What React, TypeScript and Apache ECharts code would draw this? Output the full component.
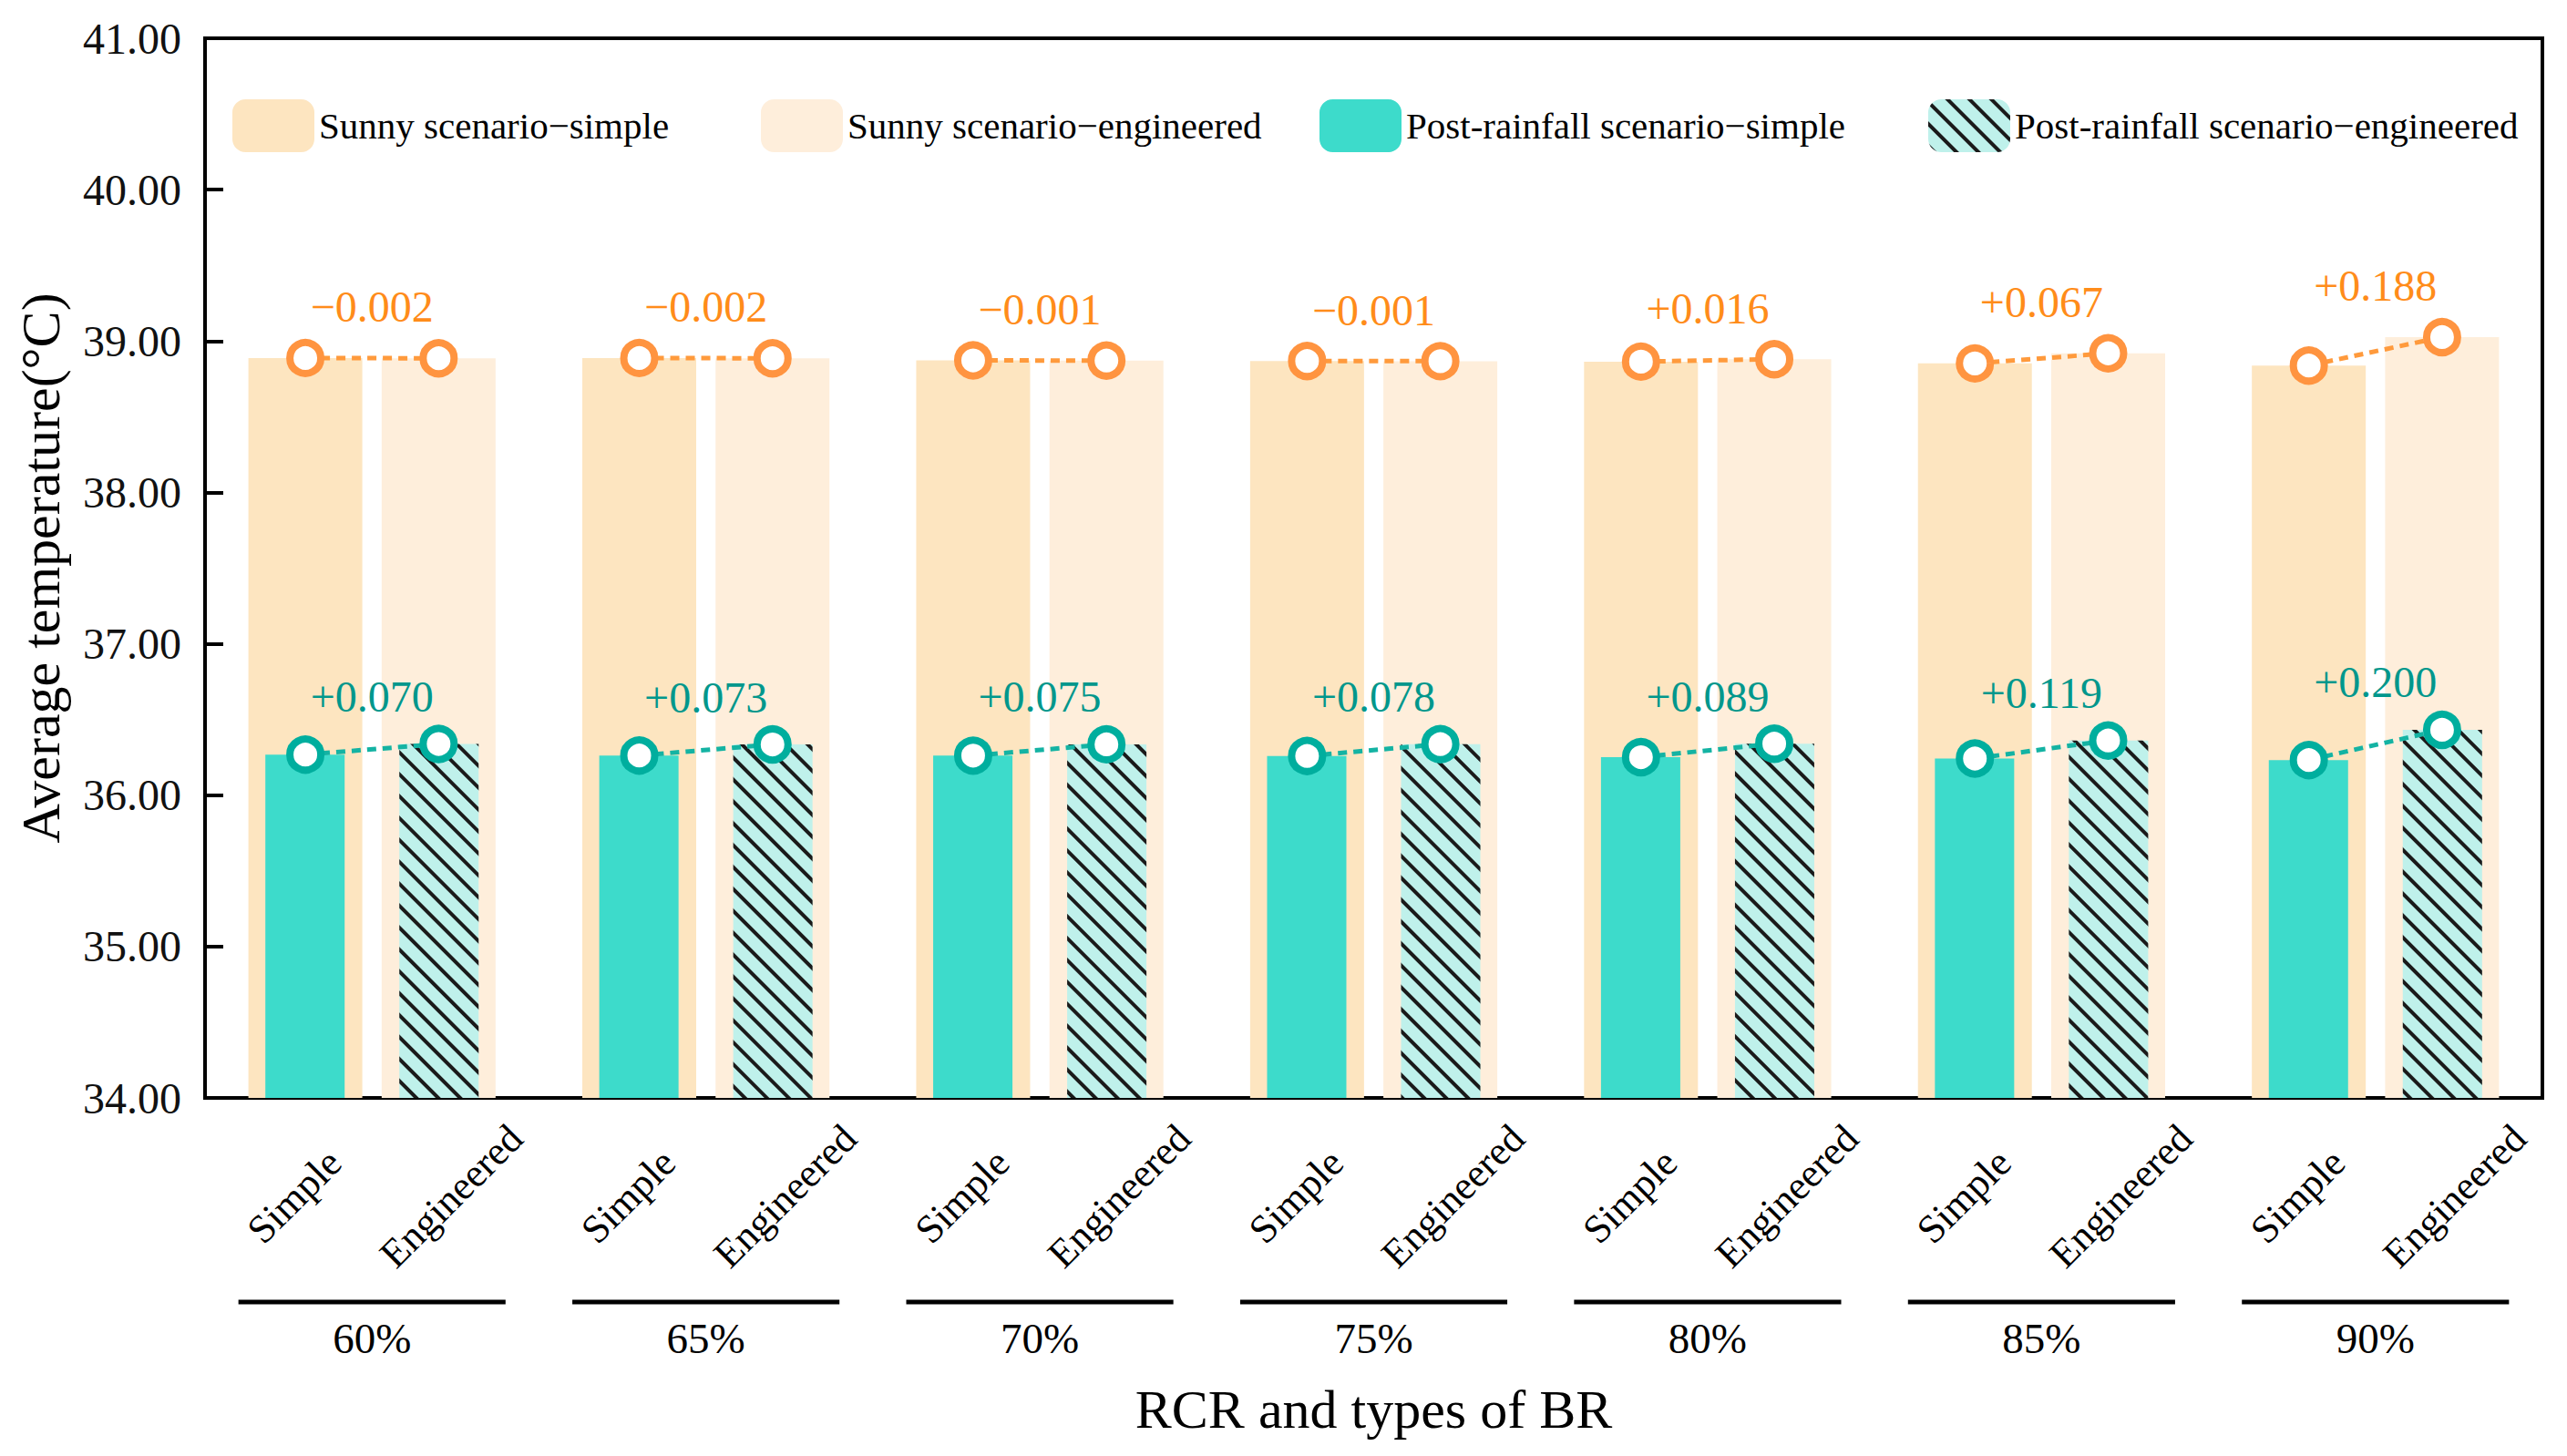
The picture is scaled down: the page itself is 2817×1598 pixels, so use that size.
import { useEffect, useRef } from "react"
import * as echarts from "echarts"

// RCR groups and BR types
const groups = ["60%", "65%", "70%", "75%", "80%", "85%", "90%"]
const brTypes = ["Simple", "Engineered"]

// average temperature (°C)
const sunnySimple = [38.888, 38.888, 38.872, 38.868, 38.864, 38.852, 38.838]
const sunnyEngineered = [38.886, 38.886, 38.871, 38.867, 38.88, 38.919, 39.026]
const rainSimple = [36.268, 36.262, 36.261, 36.259, 36.251, 36.242, 36.232]
const rainEngineered = [36.338, 36.335, 36.336, 36.337, 36.34, 36.361, 36.432]

// difference labels (engineered − simple)
const sunnyDiff = ["−0.002", "−0.002", "−0.001", "−0.001", "+0.016", "+0.067", "+0.188"]
const rainDiff = ["+0.070", "+0.073", "+0.075", "+0.078", "+0.089", "+0.119", "+0.200"]

const seriesNames = [
  "Sunny scenario−simple",
  "Sunny scenario−engineered",
  "Post-rainfall scenario−simple",
  "Post-rainfall scenario−engineered",
]

const Y_MIN = 34
const Y_MAX = 41

const FONT = "Liberation Serif"
const SUNNY_W = 125
const SUNNY_GAP = 0.17
const RAIN_W = 87
const RAIN_GAP = 0.69
// distance from category centre to each bar centre
const PAIR_OFFSET = (SUNNY_W * (1 + SUNNY_GAP)) / 2

export default function App() {
  const chartRef = useRef<HTMLDivElement>(null)

  useEffect(() => {
    document.body.style.margin = "0"
    if (!chartRef.current) return
    const chart = echarts.init(chartRef.current, undefined, { renderer: "svg" })

    const pairRenderer = (labels: string[], lineColor: string, ringColor: string, textColor: string, labelLift: number) =>
      (params: any, api: any) => {
        const i = api.value(0)
        const p1 = api.coord([i, api.value(1)])
        const p2 = api.coord([i, api.value(2)])
        const x1 = p1[0] - PAIR_OFFSET
        const x2 = p2[0] + PAIR_OFFSET
        const top = Math.min(p1[1], p2[1])
        return {
          type: "group",
          children: [
            {
              type: "line",
              shape: { x1, y1: p1[1], x2, y2: p2[1] },
              style: { stroke: lineColor, lineWidth: 5, lineDash: [10, 7] },
            },
            {
              type: "circle",
              shape: { cx: x1, cy: p1[1], r: 17 },
              style: { fill: "#fff", stroke: ringColor, lineWidth: 8 },
            },
            {
              type: "circle",
              shape: { cx: x2, cy: p2[1], r: 17 },
              style: { fill: "#fff", stroke: ringColor, lineWidth: 8 },
            },
            {
              type: "text",
              x: p1[0],
              y: top - labelLift,
              style: {
                text: labels[params.dataIndex],
                fill: textColor,
                fontSize: 48,
                fontFamily: FONT,
                align: "center",
                verticalAlign: "middle",
              },
            },
          ],
        }
      }

    const axisDecoration = (params: any, api: any) => {
      const base = api.coord([api.value(0), Y_MIN])
      const band = api.size([1, 0])[0]
      const cx = base[0]
      const mk = (text: string, x: number) => ({
        type: "text",
        x,
        y: base[1] + 108,
        rotation: Math.PI / 4,
        style: {
          text,
          fill: "#000",
          fontSize: 44,
          fontFamily: FONT,
          align: "center",
          verticalAlign: "middle",
        },
      })
      return {
        type: "group",
        children: [
          mk(brTypes[0], cx - PAIR_OFFSET - 12),
          mk(brTypes[1], cx + PAIR_OFFSET + 14),
          {
            type: "line",
            shape: { x1: cx - band * 0.4, y1: base[1] + 224, x2: cx + band * 0.4, y2: base[1] + 224 },
            style: { stroke: "#000", lineWidth: 5 },
          },
        ],
      }
    }

    const legendLefts = [250, 830, 1443, 2111]

    const option = {
      animation: false,
      textStyle: { fontFamily: FONT },
      grid: {
        left: 225,
        right: 27,
        top: 42,
        bottom: 393,
        show: true,
        borderColor: "#000",
        borderWidth: 4,
        backgroundColor: "transparent",
      },
      legend: seriesNames.map((name, i) => ({
        data: [name],
        left: legendLefts[i],
        top: 104,
        icon: "roundRect",
        itemWidth: 90,
        itemHeight: 58,
        itemGap: 0,
        textStyle: { fontSize: 41, fontFamily: FONT, color: "#000" },
        selectedMode: false,
      })),
      xAxis: [
        {
          type: "category",
          data: groups,
          axisLine: { lineStyle: { color: "#000", width: 4 } },
          axisTick: { show: false },
          axisLabel: { fontSize: 47, fontFamily: FONT, color: "#000", margin: 240 },
          name: "RCR and types of BR",
          nameLocation: "middle",
          nameGap: 312,
          nameTextStyle: { fontSize: 60, fontFamily: FONT, color: "#000" },
        },
        {
          type: "category",
          data: groups,
          show: false,
        },
      ],
      yAxis: {
        type: "value",
        min: Y_MIN,
        max: Y_MAX,
        interval: 1,
        splitLine: { show: false },
        axisLine: { show: true, lineStyle: { color: "#000", width: 4 } },
        axisTick: { show: true, inside: true, length: 20, lineStyle: { color: "#000", width: 4 } },
        axisLabel: {
          fontSize: 48,
          fontFamily: FONT,
          color: "#111",
          margin: 26,
          formatter: (v: number) => v.toFixed(2),
        },
        name: "Average temperature(°C)",
        nameLocation: "middle",
        nameGap: 150,
        nameTextStyle: { fontSize: 60, fontFamily: FONT, color: "#000" },
      },
      series: [
        {
          name: seriesNames[0],
          type: "bar",
          xAxisIndex: 0,
          barWidth: SUNNY_W,
          barGap: `${SUNNY_GAP * 100}%`,
          itemStyle: { color: "#FDE5C0" },
          data: sunnySimple,
          z: 1,
        },
        {
          name: seriesNames[1],
          type: "bar",
          xAxisIndex: 0,
          barWidth: SUNNY_W,
          barGap: `${SUNNY_GAP * 100}%`,
          itemStyle: { color: "#FEEEDB" },
          data: sunnyEngineered,
          z: 1,
        },
        {
          name: seriesNames[2],
          type: "bar",
          xAxisIndex: 1,
          barWidth: RAIN_W,
          barGap: `${RAIN_GAP * 100}%`,
          itemStyle: { color: "#3DDBCB" },
          data: rainSimple,
          z: 2,
        },
        {
          name: seriesNames[3],
          type: "bar",
          xAxisIndex: 1,
          barWidth: RAIN_W,
          barGap: `${RAIN_GAP * 100}%`,
          itemStyle: {
            color: "#BFF1EB",
            decal: {
              symbol: "rect",
              color: "#1a1a1a",
              dashArrayX: [1, 0],
              dashArrayY: [4, 13],
              rotation: Math.PI / 4,
            },
          },
          data: rainEngineered,
          z: 2,
        },
        {
          type: "custom",
          xAxisIndex: 0,
          z: 5,
          renderItem: pairRenderer(sunnyDiff, "#FF9A3C", "#FF9440", "#FF8C1A", 56),
          data: sunnySimple.map((v, i) => [i, v, sunnyEngineered[i]]),
        },
        {
          type: "custom",
          xAxisIndex: 0,
          z: 5,
          renderItem: pairRenderer(rainDiff, "#14B3A3", "#00AE9E", "#00978C", 52),
          data: rainSimple.map((v, i) => [i, v, rainEngineered[i]]),
        },
        {
          type: "custom",
          xAxisIndex: 0,
          clip: false,
          silent: true,
          renderItem: axisDecoration,
          data: groups.map((_, i) => [i, Y_MIN]),
        },
      ],
    }

    chart.setOption(option)

    const handleResize = () => chart.resize()
    window.addEventListener("resize", handleResize)
    return () => {
      window.removeEventListener("resize", handleResize)
      chart.dispose()
    }
  }, [])

  return <div ref={chartRef} style={{ width: "2817px", height: "1598px" }} />
}
